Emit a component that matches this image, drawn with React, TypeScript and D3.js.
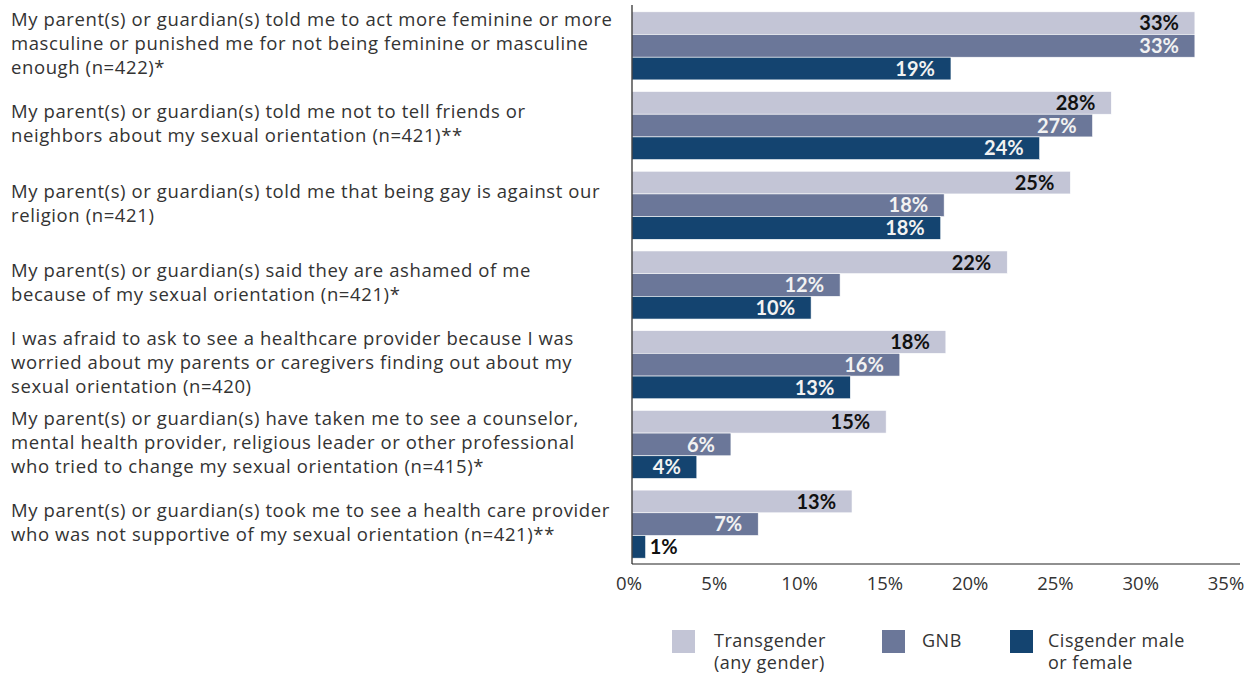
import React from "react";
import * as d3 from "d3";

const categories: string[][] = [
  ["My parent(s) or guardian(s) told me to act more feminine or more", "masculine or punished me for not being feminine or masculine", "enough (n=422)*"],
  ["My parent(s) or guardian(s) told me not to tell friends or", "neighbors about my sexual orientation (n=421)**"],
  ["My parent(s) or guardian(s) told me that being gay is against our", "religion (n=421)"],
  ["My parent(s) or guardian(s) said they are ashamed of me", "because of my sexual orientation (n=421)*"],
  ["I was afraid to ask to see a healthcare provider because I was", "worried about my parents or caregivers finding out about my", "sexual orientation (n=420)"],
  ["My parent(s) or guardian(s) have taken me to see a counselor,", "mental health provider, religious leader or other professional", "who tried to change my sexual orientation (n=415)*"],
  ["My parent(s) or guardian(s) took me to see a health care provider", "who was not supportive of my sexual orientation (n=421)**"],
];

const transgender = [33.0, 28.1, 25.7, 22.0, 18.4, 14.9, 12.9];
const gnb = [33.0, 27.0, 18.3, 12.2, 15.7, 5.8, 7.4];
const cisgender = [18.7, 23.9, 18.1, 10.5, 12.8, 3.8, 0.8];

const transLabels = ["33%", "28%", "25%", "22%", "18%", "15%", "13%"];
const gnbLabels = ["33%", "27%", "18%", "12%", "16%", "6%", "7%"];
const cisLabels = ["19%", "24%", "18%", "10%", "13%", "4%", "1%"];

const seriesNames = ["Transgender", "GNB", "Cisgender"];
const legendLabels: string[][] = [["Transgender", "(any gender)"], ["GNB"], ["Cisgender male", "or female"]];
const tickValues = [0, 5, 10, 15, 20, 25, 30, 35];

const COLORS = ["#c3c5d6", "#6b7799", "#144470"];
const LABEL_COLORS = ["#111111", "#f2f2f2", "#f2f2f2"];

const W = 1260;
const H = 677;
const X0 = 632;
const X1 = 1229;
const Y0 = 6;
const Y1 = 564;

export default function App() {
  const x = d3.scaleLinear().domain([0, 35]).range([X0, X1]);
  const y = d3
    .scaleBand<number>()
    .domain(d3.range(categories.length))
    .range([Y0, Y1])
    .paddingInner(0.146)
    .paddingOuter(0.073);
  const sub = d3.scaleBand<number>().domain([0, 1, 2]).range([0, y.bandwidth()]);

  const series = [transgender, gnb, cisgender];
  const labels = [transLabels, gnbLabels, cisLabels];
  const textFont = "'Open Sans', sans-serif";
  const numFont = "Lato, 'Liberation Sans', sans-serif";

  return (
    <svg width={W} height={H} style={{ position: "absolute", left: 0, top: 0, background: "#fff" }}>
      {categories.map((lines, i) => {
        const cy = (y(i) as number) + y.bandwidth() / 2 - 2;
        const lh = 24;
        const start = cy - ((lines.length - 1) * lh) / 2;
        return (
          <text key={"c" + i} fontFamily={textFont} fontSize={18.5} letterSpacing={0.6} fill="#333">
            {lines.map((l, j) => (
              <tspan key={j} x={11} y={start + j * lh} dy="0.35em">
                {l}
              </tspan>
            ))}
          </text>
        );
      })}
      {series.map((vals, s) =>
        vals.map((v, i) => {
          const by = (y(i) as number) + (sub(s) as number);
          const bw = x(v) - x(0);
          const inside = bw > 45;
          return (
            <g key={"b" + s + "-" + i}>
              <rect x={x(0)} y={by} width={bw} height={sub.bandwidth()} fill={COLORS[s]} stroke="#ffffff" strokeWidth={0.6} />
              <text
                x={inside ? x(v) - 16 : x(v) + 4}
                y={by + sub.bandwidth() / 2}
                dy="0.36em"
                textAnchor={inside ? "end" : "start"}
                fontFamily={numFont}
                fontWeight={700}
                fontSize={20}
                fill={inside ? LABEL_COLORS[s] : "#111111"}
              >
                {labels[s][i]}
              </text>
            </g>
          );
        })
      )}
      <line x1={X0} x2={X0} y1={Y0 - 1} y2={Y1} stroke="#222" strokeWidth={1.2} />
      <line x1={X0} x2={1240} y1={Y1} y2={Y1} stroke="#222" strokeWidth={1.2} />
      {tickValues.map((t) => (
        <text key={"t" + t} x={x(t) - 3} y={584} dy="0.35em" textAnchor="middle" fontFamily={textFont} fontSize={18.5} fill="#333">
          {t + "%"}
        </text>
      ))}
      {seriesNames.map((n, s) => {
        const lx = [672, 882, 1010][s];
        const tx = [714, 922, 1048][s];
        return (
          <g key={"l" + n}>
            <rect x={lx} y={630} width={23} height={23} fill={COLORS[s]} />
            <text fontFamily={textFont} fontSize={18} letterSpacing={0.5} fill="#333">
              {legendLabels[s].map((l, j) => (
                <tspan key={j} x={tx} y={641 + j * 22} dy="0.35em">
                  {l}
                </tspan>
              ))}
            </text>
          </g>
        );
      })}
    </svg>
  );
}
